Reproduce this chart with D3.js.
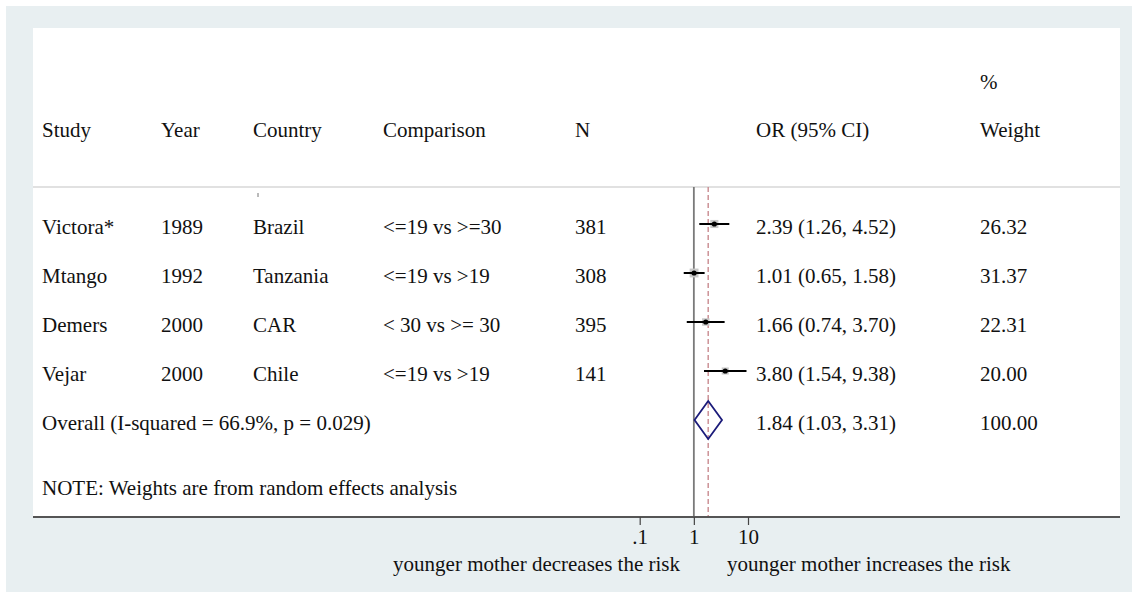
<!DOCTYPE html>
<html>
<head>
<meta charset="utf-8">
<script src="https://cdn.jsdelivr.net/npm/d3@7"></script>
<style>
  html, body { margin: 0; padding: 0; background: #ffffff; }
  svg text { font-family: "Liberation Serif", "Times New Roman", serif; fill: #111; }
</style>
</head>
<body>
<svg id="chart" width="1132" height="592"></svg>
<script>
// ---- data ----
const studies = ["Victora*", "Mtango", "Demers", "Vejar"];
const years = ["1989", "1992", "2000", "2000"];
const countries = ["Brazil", "Tanzania", "CAR", "Chile"];
const comparisons = ["<=19 vs >=30", "<=19 vs >19", "< 30 vs >= 30", "<=19 vs >19"];
const sampleSizes = ["381", "308", "395", "141"];
const oddsRatios = [2.39, 1.01, 1.66, 3.80];
const lowerCI = [1.26, 0.65, 0.74, 1.54];
const upperCI = [4.52, 1.58, 3.70, 9.38];
const weights = [26.32, 31.37, 22.31, 20.00];
const overallLabel = "Overall (I-squared = 66.9%, p = 0.029)";
const overallOR = 1.84, overallLCI = 1.03, overallUCI = 3.31, overallWeight = 100.00;
const headers = ["Study", "Year", "Country", "Comparison", "N", "OR (95% CI)", "Weight"];
const tickValues = [0.1, 1, 10];
const tickLabels = [".1", "1", "10"];
const noteText = "NOTE: Weights are from random effects analysis";
const leftTitle = "younger mother decreases the risk";
const rightTitle = "younger mother increases the risk";

// ---- layout ----
const svg = d3.select("#chart");
const FS = 21;
const panel = { x0: 33, x1: 1120, y0: 28, y1: 517 };
const headerLineY = 187;
const colX = { study: 42, year: 161, country: 253, comp: 383, n: 575, or: 756, w: 980 };

// background
svg.append("rect").attr("x", 6).attr("y", 6).attr("width", 1126).attr("height", 586).attr("fill", "#e8eff1");
svg.append("rect").attr("x", panel.x0).attr("y", panel.y0)
  .attr("width", panel.x1 - panel.x0).attr("height", panel.y1 - panel.y0).attr("fill", "#ffffff");

// scales
const x = d3.scaleLog().domain([0.1, 10]).range([639.7, 748]);
const y = d3.scaleLinear().domain([0, 4]).range([224, 420]);

// header
const hdr = svg.append("g").attr("font-size", FS);
const hdrY = 137;
[["study", headers[0]], ["year", headers[1]], ["country", headers[2]], ["comp", headers[3]],
 ["n", headers[4]], ["or", headers[5]], ["w", headers[6]]].forEach(([k, t]) => {
  hdr.append("text").attr("x", colX[k]).attr("y", hdrY).text(t);
});
hdr.append("text").attr("x", colX.w).attr("y", 89).text("%");

// header separator
svg.append("line").attr("x1", panel.x0).attr("x2", panel.x1)
  .attr("y1", headerLineY).attr("y2", headerLineY)
  .attr("stroke", "#c4c4c4").attr("stroke-width", 1.2);
// small stray tick under Country header
svg.append("line").attr("x1", 258).attr("x2", 258).attr("y1", 193).attr("y2", 197)
  .attr("stroke", "#777").attr("stroke-width", 1);

// null line and overall dashed line
svg.append("line").attr("x1", x(1)).attr("x2", x(1)).attr("y1", headerLineY).attr("y2", panel.y1)
  .attr("stroke", "#7a7a7a").attr("stroke-width", 1.8);
svg.append("line").attr("x1", x(overallOR)).attr("x2", x(overallOR)).attr("y1", headerLineY).attr("y2", panel.y1)
  .attr("stroke", "#c88a8f").attr("stroke-width", 1.4).attr("stroke-dasharray", "5,3");

// rows text
const rows = svg.append("g").attr("font-size", FS);
const fmt = d3.format(".2f");
studies.forEach((s, i) => {
  const ty = y(i) + 10;
  rows.append("text").attr("x", colX.study).attr("y", ty).text(s);
  rows.append("text").attr("x", colX.year).attr("y", ty).text(years[i]);
  rows.append("text").attr("x", colX.country).attr("y", ty).text(countries[i]);
  rows.append("text").attr("x", colX.comp).attr("y", ty).text(comparisons[i]);
  rows.append("text").attr("x", colX.n).attr("y", ty).text(sampleSizes[i]);
  rows.append("text").attr("x", colX.or).attr("y", ty)
    .text(`${fmt(oddsRatios[i])} (${fmt(lowerCI[i])}, ${fmt(upperCI[i])})`);
  rows.append("text").attr("x", colX.w).attr("y", ty).text(fmt(weights[i]));
});
rows.append("text").attr("x", colX.study).attr("y", y(4) + 10).text(overallLabel);
rows.append("text").attr("x", colX.or).attr("y", y(4) + 10)
  .text(`${fmt(overallOR)} (${fmt(overallLCI)}, ${fmt(overallUCI)})`);
rows.append("text").attr("x", colX.w).attr("y", y(4) + 10).text(fmt(overallWeight));
rows.append("text").attr("x", colX.study).attr("y", 495).text(noteText);

// study markers
const marks = svg.append("g");
studies.forEach((s, i) => {
  const side = 1.58 * Math.sqrt(weights[i]);
  marks.append("rect").attr("x", x(oddsRatios[i]) - side / 2).attr("y", y(i) - side / 2)
    .attr("width", side).attr("height", side).attr("fill", "#c8c8c8");
  marks.append("line").attr("x1", x(lowerCI[i])).attr("x2", x(upperCI[i]))
    .attr("y1", y(i)).attr("y2", y(i)).attr("stroke", "#000").attr("stroke-width", 2);
  marks.append("circle").attr("cx", x(oddsRatios[i])).attr("cy", y(i)).attr("r", 2.6).attr("fill", "#000");
});

// overall diamond
const dy = y(4), dh = 19;
svg.append("path")
  .attr("d", `M${x(overallLCI)},${dy} L${x(overallOR)},${dy - dh} L${x(overallUCI)},${dy} L${x(overallOR)},${dy + dh} Z`)
  .attr("fill", "none").attr("stroke", "#1b1b7a").attr("stroke-width", 1.8);

// x axis
svg.append("line").attr("x1", panel.x0).attr("x2", panel.x1).attr("y1", panel.y1).attr("y2", panel.y1)
  .attr("stroke", "#555").attr("stroke-width", 2);
const axis = d3.axisBottom(x).tickValues(tickValues).tickSize(8).tickPadding(10)
  .tickFormat((d, i) => tickLabels[i]);
const ag = svg.append("g").attr("transform", `translate(0,${panel.y1})`).call(axis);
ag.select(".domain").remove();
ag.selectAll(".tick line").attr("stroke", "#444").attr("stroke-width", 1.2);
ag.selectAll(".tick text").attr("font-size", FS).attr("font-family", "Liberation Serif").attr("fill", "#111")
  .attr("dy", null).attr("y", 27);

// axis titles
svg.append("text").attr("x", 680).attr("y", 571).attr("font-size", FS).attr("text-anchor", "end").text(leftTitle);
svg.append("text").attr("x", 727).attr("y", 571).attr("font-size", FS).attr("text-anchor", "start").text(rightTitle);
</script>
</body>
</html>
